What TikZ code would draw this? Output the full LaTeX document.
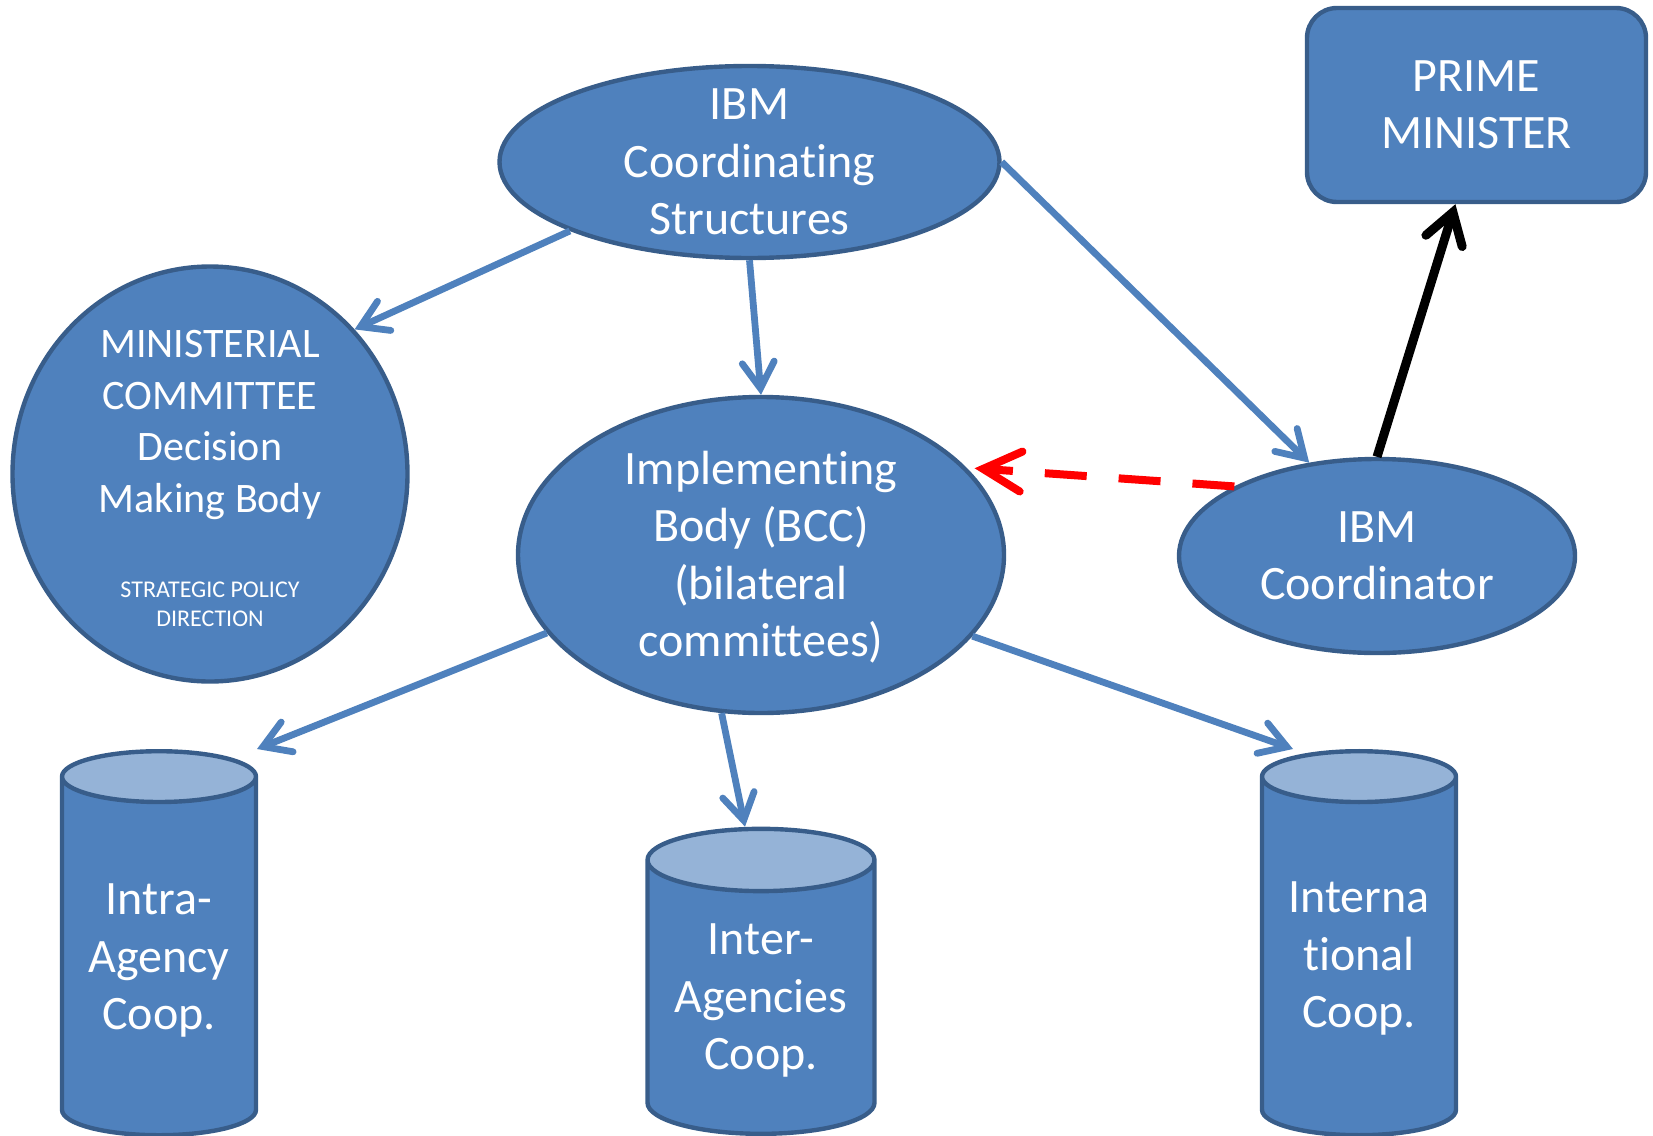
\documentclass[tikz,border=0pt]{standalone}
\usepackage{fontspec}
\setmainfont{Carlito}[Ligatures=NoCommon]
\usetikzlibrary{shapes.geometric,arrows.meta,positioning}
\definecolor{boxblue}{HTML}{4F81BD}
\definecolor{edgeblue}{HTML}{385D8A}
\definecolor{topblue}{HTML}{95B3D7}
\tikzstyle{bubble} = [draw=edgeblue, fill=boxblue, ellipse, line width=2.2pt, text=white, align=center, inner sep=-12pt, font=\fontsize{24}{28.7}\selectfont]
\tikzstyle{block} = [draw=edgeblue, fill=boxblue, rectangle, rounded corners=15pt, line width=2.2pt, text=white, align=center, font=\fontsize{24}{28.7}\selectfont]
\tikzstyle{store} = [draw=edgeblue, cylinder, shape border rotate=90, aspect=0.36, cylinder uses custom fill, cylinder body fill=boxblue, cylinder end fill=topblue, line width=2.2pt, text=white, align=center, inner sep=0pt, minimum width=97pt, minimum height=192pt, font=\fontsize{24}{28.7}\selectfont]
\tikzstyle{bigtext} = [text=white, align=center, inner sep=0pt, font=\fontsize{21}{25.8}\selectfont]
\tikzstyle{smalltext} = [text=white, align=center, inner sep=0pt, font=\fontsize{12}{14.7}\selectfont]
\tikzstyle{link} = [draw=boxblue, line width=3.4pt, ->]
\tikzstyle{report} = [draw=red, line width=4pt, dash pattern=on 21pt off 16pt, shorten >=4pt, -{Straight Barb[length=19pt, width=20pt, line cap=round]}]
\tikzstyle{boss} = [draw=black, line width=4.5pt, -{Straight Barb[length=15pt, width=19pt, line cap=round]}]

\begin{document}
\begin{tikzpicture}[x=0.5pt, y=-0.5pt, >={Straight Barb[length=13pt, width=16pt, line cap=round]}]
\useasboundingbox (0,0) rectangle (1653,1135);

\node [bubble, minimum width=250pt, minimum height=96pt] (coord) at (749.5,162) {IBM\\Coordinating\\Structures};
\node [block, minimum width=169.5pt, minimum height=97pt] (pm) at (1476.5,105) {PRIME\\MINISTER};

\node [bubble, minimum width=197.5pt, minimum height=207.5pt] (mincomm) at (210,474) {};
\node [bigtext] (mintext) at (210,425) {MINISTERIAL\\COMMITTEE\\Decision\\Making Body};
\node [smalltext] (strategy) at (210,604) {STRATEGIC POLICY\\DIRECTION};

\node [bubble, minimum width=243pt, minimum height=158pt] (impl) at (761,555) {\rule{0pt}{19pt}Implementing\\Body (BCC)\\(bilateral\\committees)};
\node [bubble, minimum width=198pt, minimum height=97pt] (ibmc) at (1377,556) {IBM\\Coordinator};

% cooperation levels
\node [store] (intra) at (159,957) {\rule{0pt}{19pt}Intra-\\Agency\\Coop.};
\node [store, minimum width=113.5pt, minimum height=152.5pt] (inter) at (761,998) {\rule{0pt}{18pt}Inter-\\Agencies\\Coop.};
\node [store] (intl) at (1359,957) {\rule{0pt}{17pt}Interna\\tional\\Coop.};

\draw [link] (coord.201) -- (mincomm.45);
\draw [link] (coord.270) -- (impl.90);
\draw [link] (coord.0) -- (ibmc.126);
\draw [boss] (ibmc.90) -- (pm.258);
\draw [report] (ibmc.154) -- (impl.23);

\draw [link] (impl.200) -- ([xshift=49pt]intra.north);
\draw [link] (impl.256.6) -- ([xshift=-8pt]inter.north);
\draw [link] (impl.339) -- ([xshift=-33pt]intl.north);

\end{tikzpicture}
\end{document}
